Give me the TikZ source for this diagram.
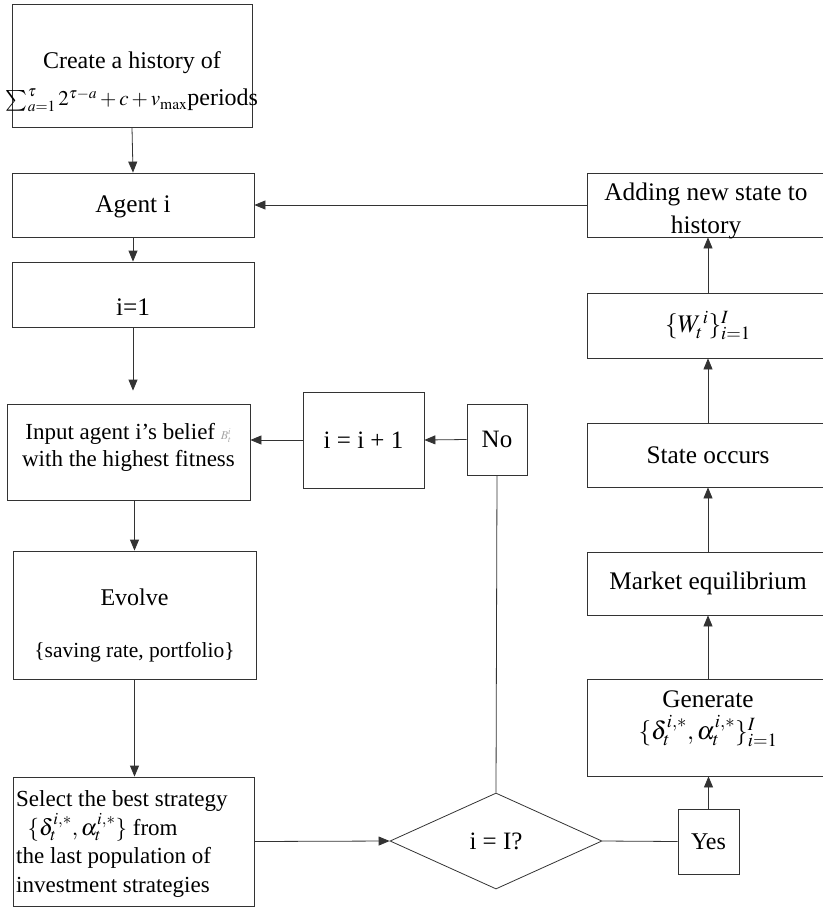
\documentclass[tikz,border=0pt]{standalone}
\usepackage{mathptmx}
\usepackage{exscale}
\usepackage{fontspec}
\setmainfont{Liberation Serif}
\usetikzlibrary{shapes.geometric,arrows.meta}
\begin{document}
\begin{tikzpicture}[x=1pt,y=-1pt,
  every node/.style={font=\fontsize{25.3}{30}\selectfont},
  box/.style 2 args={draw=black!80, line width=0.8pt, rectangle, minimum width=#1pt, minimum height=#2pt, inner sep=0pt, align=center},
  lbl/.style={inner sep=0pt, align=center},
  arr/.style={draw=black!80, line width=0.8pt, -{Triangle[length=11pt,width=9pt]}},
  ln/.style={draw=black!80, line width=0.8pt}]
\useasboundingbox (0,0) rectangle (822,907);
% left column
\node[box={240}{123}] (create) at (132,65.5) {};
\node[lbl, font=\fontsize{24}{28}\selectfont] (createT) at (132,82) {Create a history of\\[9pt]{\fontsize{21}{24}\selectfont$\sum_{a=1}^{\tau}2^{\tau-a}+c+v_{\max}$}periods};
\node[box={242}{64}] (agent) at (133,205) {};
\node[lbl] (agentT) at (133,207) {Agent i};
\node[box={242}{65}] (ione) at (133,294.5) {};
\node[lbl] (ioneT) at (133,307) {i=1};
\node[box={243}{96}] (input) at (128.5,452) {};
\node[lbl, font=\fontsize{23}{27}\selectfont] (inputT) at (128.5,447) {Input agent i's belief {\color{black!35}\fontsize{12}{12}\selectfont$B^{i}_{t}$}\\with the highest fitness};
\node[box={243}{128}] (evolve) at (134.5,615) {};
\node[lbl, font=\fontsize{24}{29}\selectfont] (evolveT) at (134.5,597) {Evolve};
\node[lbl, font=\fontsize{21.5}{26}\selectfont] (evolveS) at (134.5,652) {\{saving rate, portfolio\}};
\node[box={241}{129}] (select) at (133.5,841.5) {};
\node[lbl, anchor=west, align=left, font=\fontsize{23}{28.5}\selectfont] (selectT) at (16,844) {Select the best strategy\\\ \ $\{\delta_t^{i,*},\alpha_t^{i,*}\}$ from\\the last population of\\investment strategies};
% middle
\node[box={121}{96}, font=\fontsize{25}{30}\selectfont] (inc) at (363.5,440) {i = i + 1};
\node[box={60}{71}, font=\fontsize{25}{30}\selectfont] (no) at (497,439.5) {No};
\node[draw=black!80, line width=0.8pt, diamond, aspect=2.2, minimum width=212pt, minimum height=96pt, inner sep=0pt, font=\fontsize{25}{30}\selectfont] (dec) at (496,841) {i = I?};
\node[box={61}{65}, font=\fontsize{24}{30}\selectfont] (yes) at (708.5,841.5) {Yes};
% right column
\node[box={242}{64}] (adding) at (708,205) {};
\node[lbl, font=\fontsize{25.3}{33}\selectfont] (addingT) at (706,211) {Adding new state to\\history};
\node[box={242}{65}] (wbox) at (708,325.5) {$\{W_t^{\,i}\}_{i=1}^{I}$};
\node[box={242}{64}] (state) at (708,455) {};
\node[lbl] (stateT) at (708,455) {State occurs};
\node[box={242}{63}] (market) at (708,583.5) {};
\node[lbl] (marketT) at (708,583.5) {Market equilibrium};
\node[box={242}{97}] (gen) at (708,727.5) {};
\node[lbl, font=\fontsize{25.3}{32}\selectfont] (genT) at (708,719) {Generate\\$\{\delta_t^{i,*},\alpha_t^{i,*}\}_{i=1}^{I}$};
% connectors
\draw[arr] (create.south) -- (agent.north);
\draw[arr] (agent.south) -- (ione.north);
\draw[arr, shorten >=13pt] (ione.south) -- (ione.south |- input.north);
\draw[arr] (input.south -| evolve.north) -- (evolve.north);
\draw[arr] (evolve.south) -- (evolve.south |- select.north);
\draw[arr] (select.east) -- (dec.west);
\draw[ln] (dec.north) -- (no.south);
\draw[arr] (no.west) -- (inc.east);
\draw[arr] (inc.west) -- (input.east |- inc.west);
\draw[ln] (dec.east) -- (yes.west);
\draw[arr] (yes.north) -- (yes.north |- gen.south);
\draw[arr] (gen.north) -- (market.south);
\draw[arr] (market.north) -- (state.south);
\draw[arr] (state.north) -- (wbox.south);
\draw[arr] (wbox.north) -- (adding.south);
\draw[arr] (adding.west) -- (agent.east);
\end{tikzpicture}
\end{document}
